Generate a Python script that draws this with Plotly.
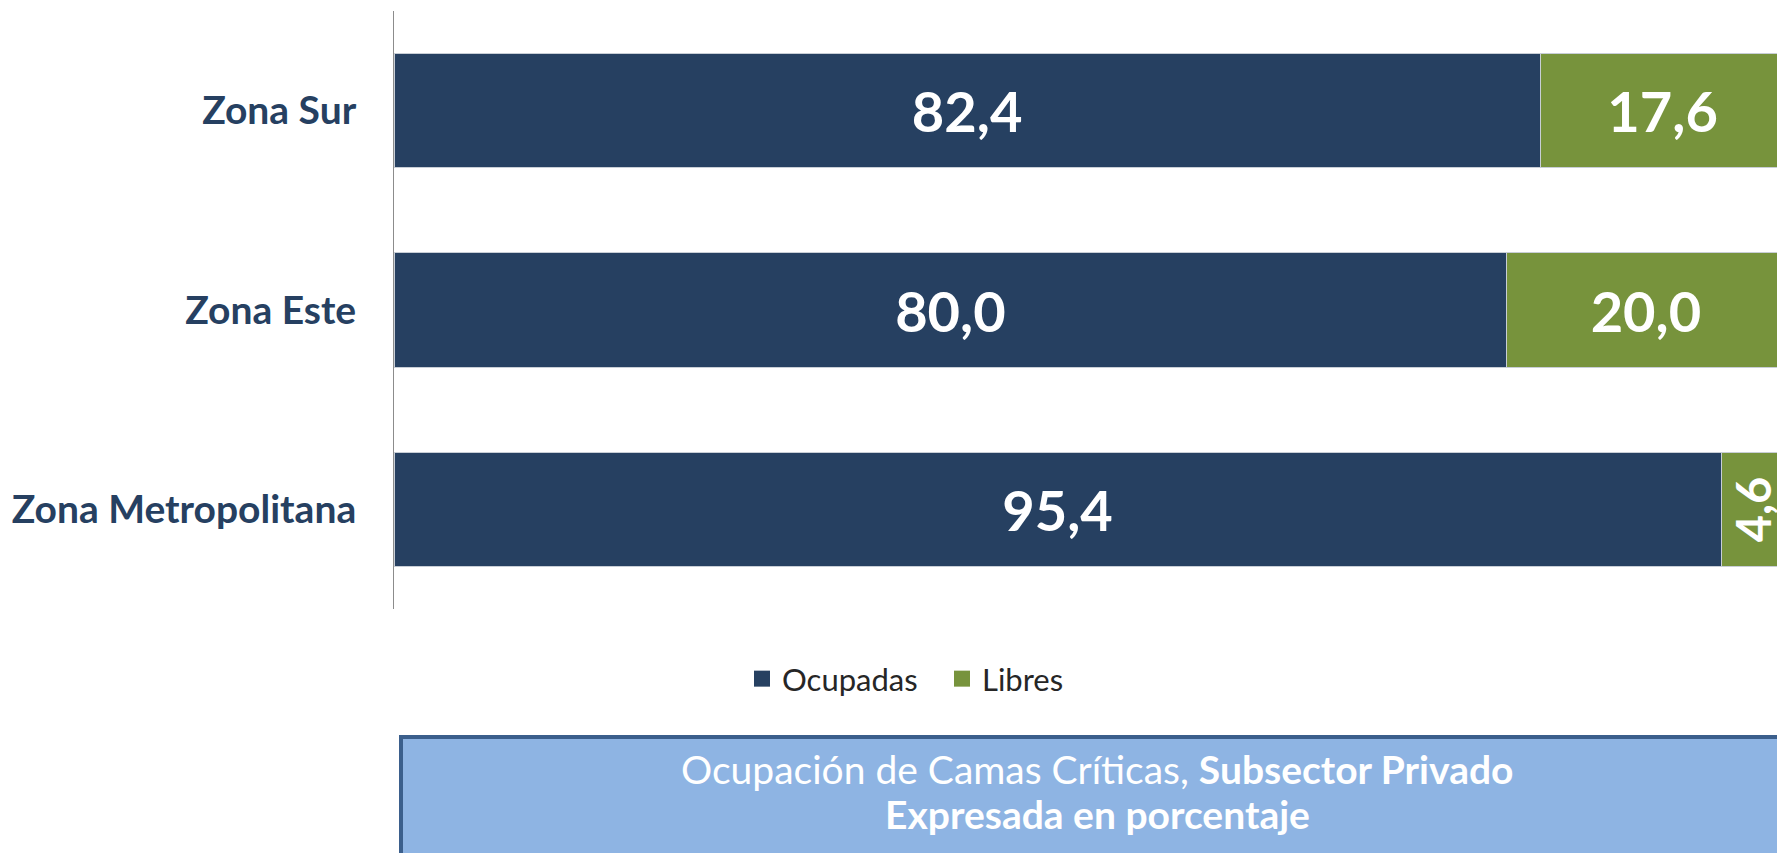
import plotly.graph_objects as go

zonas = ["Zona Metropolitana", "Zona Este", "Zona Sur"]
ocupadas = [95.4, 80.0, 82.4]
libres = [4.6, 20.0, 17.6]
series_names = ["Ocupadas", "Libres"]
title_line1_normal = "Ocupación de Camas Críticas, "
title_line1_bold = "Subsector Privado"
title_line2 = "Expresada en porcentaje"

BLUE = "#264061"
GREEN = "#77933C"
FONT = "Lato"

OFF = 8  # default body margin of the html page
W, H = 1785 - OFF, 853 - OFF
# plot area in page pixels: x 394..1785, y 11..609
L, R, T, B = 394 - OFF, 0, 11 - OFF, 853 - 609
PH = H - T - B
PW = W - L - R


def fmt(v):
    return f"{v:.1f}".replace(".", ",")


def py(page_y):
    return (H - B - (page_y - OFF)) / PH


def px(page_x):
    return (page_x - OFF - L) / PW


fig = go.Figure()
for vals, name, color, labels in [
    (ocupadas, series_names[0], BLUE, [fmt(v) for v in ocupadas]),
    (libres, series_names[1], GREEN, [fmt(v) if v >= 10 else "" for v in libres]),
]:
    fig.add_trace(go.Bar(
        y=zonas, x=vals, name=name, orientation="h", showlegend=False,
        marker=dict(color=color, line=dict(color="#C8CED6", width=1)),
        text=labels, textposition="inside",
        insidetextanchor="middle", textangle=0,
        textfont=dict(family=FONT, size=56, color="white", weight="bold"),
        hoverinfo="skip",
    ))

# legend entries with larger square symbols
for name, color in zip(series_names, [BLUE, GREEN]):
    fig.add_trace(go.Scatter(
        x=[None], y=[None], mode="markers", name=name,
        marker=dict(symbol="square", size=20, color=color),
        hoverinfo="skip",
    ))

# rotated label for narrow segments
for z, o, l in zip(zonas, ocupadas, libres):
    if l < 10:
        fig.add_annotation(
            x=o + l / 2, y=z, xref="x", yref="y", text=fmt(l),
            textangle=-90, showarrow=False,
            font=dict(family=FONT, size=47, color="white", weight="bold"),
        )

# title box
fig.add_shape(
    type="rect", xref="paper", yref="paper",
    x0=px(401), x1=px(1800), y0=py(870), y1=py(737),
    fillcolor="#8EB4E3", line=dict(color="#3B5F8C", width=4), layer="above",
)
fig.add_annotation(
    xref="paper", yref="paper", x=px(1097), y=py(769),
    text=f"{title_line1_normal}<b>{title_line1_bold}</b>",
    showarrow=False, xanchor="center", yanchor="middle",
    font=dict(family=FONT, size=39, color="white"),
)
fig.add_annotation(
    xref="paper", yref="paper", x=px(1097), y=py(814),
    text=f"<b>{title_line2}</b>",
    showarrow=False, xanchor="center", yanchor="middle",
    font=dict(family=FONT, size=39, color="white"),
)

fig.update_layout(
    width=W, height=H,
    margin=dict(l=L, r=R, t=T, b=B, autoexpand=False),
    barmode="stack", bargap=0.427,
    plot_bgcolor="white", paper_bgcolor="white",
    showlegend=True,
    legend=dict(
        orientation="h", x=px(742), y=py(679), xanchor="left", yanchor="middle",
        traceorder="normal", itemsizing="trace",
        entrywidth=155, entrywidthmode="pixels",
        font=dict(family=FONT, size=31, color="#262626"),
        tracegroupgap=0,
    ),
    xaxis=dict(range=[0, 100], visible=False, fixedrange=True),
    yaxis=dict(
        range=[-0.5, 2.5], showline=True, linecolor="#8C8C8C", linewidth=1,
        showgrid=False, zeroline=False, ticks="",
        ticklabelstandoff=29,
        tickfont=dict(family=FONT, size=39, color=BLUE, weight="bold"),
    ),
    uniformtext=dict(mode=False),
)

fig.write_html("out.html")
